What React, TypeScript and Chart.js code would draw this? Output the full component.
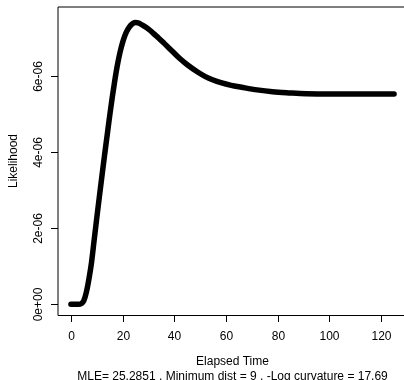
import { useEffect, useRef } from "react";
import { Chart, registerables } from "chart.js";

Chart.register(...registerables);

// ---- data ----
const elapsedTime = [
  0, 3, 4, 5, 6, 7, 8, 9, 10, 11, 12, 13, 14, 15, 16, 17, 18, 19, 20, 21, 22, 23, 24, 25, 26, 27,
  28, 30, 32, 34, 36, 39, 42, 45, 49, 52, 55, 58, 62, 66, 72, 78, 85, 91, 100, 108, 118, 125,
];
const likelihood = [
  0, 0, 0.02e-6, 0.1e-6, 0.33e-6, 0.68e-6, 1.12e-6, 1.7e-6, 2.27e-6, 2.83e-6, 3.38e-6, 3.92e-6,
  4.44e-6, 4.96e-6, 5.45e-6, 5.9e-6, 6.3e-6, 6.63e-6, 6.89e-6, 7.09e-6, 7.23e-6, 7.33e-6, 7.39e-6,
  7.41e-6, 7.4e-6, 7.37e-6, 7.33e-6, 7.24e-6, 7.12e-6, 7.0e-6, 6.87e-6, 6.67e-6, 6.47e-6, 6.3e-6,
  6.11e-6, 5.99e-6, 5.9e-6, 5.83e-6, 5.76e-6, 5.71e-6, 5.64e-6, 5.59e-6, 5.56e-6, 5.54e-6, 5.53e-6,
  5.53e-6, 5.53e-6, 5.53e-6,
];
const xTicks = [0, 20, 40, 60, 80, 100, 120];
const xTickLabels = ["0", "20", "40", "60", "80", "100", "120"];
const yTicks = [0, 2e-6, 4e-6, 6e-6];
const yTickLabels = ["0e+00", "2e-06", "4e-06", "6e-06"];
const xTitle = "Elapsed Time";
const subTitle = "MLE= 25.2851 , Minimum dist = 9 , -Log curvature = 17.69";
const yTitle = "Likelihood";

const FONT = "12px 'Liberation Sans', Arial, sans-serif";

const rAxesPlugin = {
  id: "rAxes",
  afterDraw(chart: any) {
    const { ctx, chartArea, scales } = chart;
    const xs = scales.x;
    const ys = scales.y;
    ctx.save();
    // box
    ctx.strokeStyle = "#000";
    ctx.lineWidth = 1;
    ctx.beginPath();
    ctx.moveTo(chartArea.left, chartArea.top);
    ctx.lineTo(chartArea.right, chartArea.top);
    ctx.moveTo(chartArea.left, chartArea.top);
    ctx.lineTo(chartArea.left, chartArea.bottom + 0.5);
    ctx.stroke();
    ctx.beginPath();
    ctx.moveTo(chartArea.left, chartArea.bottom + 0.5);
    ctx.lineTo(chartArea.right, chartArea.bottom + 0.5);
    ctx.moveTo(chartArea.right, chartArea.top);
    ctx.lineTo(chartArea.right, chartArea.bottom);
    ctx.stroke();

    ctx.fillStyle = "#000";
    ctx.font = FONT;
    // x ticks
    ctx.textAlign = "center";
    ctx.textBaseline = "middle";
    xTicks.forEach((v, i) => {
      const px = Math.round(xs.getPixelForValue(v)) + 0.5;
      ctx.beginPath();
      ctx.moveTo(px, chartArea.bottom + 1);
      ctx.lineTo(px, chartArea.bottom + 7);
      ctx.stroke();
      ctx.fillText(xTickLabels[i], px, chartArea.bottom + 22);
    });
    // y ticks
    yTicks.forEach((v, i) => {
      const py = Math.round(ys.getPixelForValue(v)) + 0.5;
      ctx.beginPath();
      ctx.moveTo(chartArea.left, py);
      ctx.lineTo(chartArea.left - 7, py);
      ctx.stroke();
      ctx.save();
      ctx.translate(chartArea.left - 19, py);
      ctx.rotate(-Math.PI / 2);
      ctx.fillText(yTickLabels[i], 0, 0);
      ctx.restore();
    });
    // titles
    const cx = (chartArea.left + chartArea.right) / 2;
    ctx.fillText(xTitle, cx, chartArea.bottom + 47);
    ctx.fillText(subTitle, cx, chartArea.bottom + 62);
    ctx.save();
    ctx.translate(13.5, (chartArea.top + chartArea.bottom) / 2);
    ctx.rotate(-Math.PI / 2);
    ctx.fillText(yTitle, 0, 0);
    ctx.restore();
    ctx.restore();
  },
};

export default function App() {
  const ref = useRef<HTMLCanvasElement | null>(null);
  useEffect(() => {
    document.body.style.margin = "0";
    const canvas = ref.current;
    if (!canvas) return;
    const chart = new Chart(canvas, {
      type: "line",
      data: {
        datasets: [
          {
            data: elapsedTime.map((x, i) => ({ x, y: likelihood[i] })),
            borderColor: "#000",
            borderWidth: 5.5,
            borderCapStyle: "round",
            borderJoinStyle: "round",
            pointRadius: 0,
            cubicInterpolationMode: "monotone",
            fill: false,
          },
        ],
      },
      options: {
        animation: false,
        responsive: false,
        devicePixelRatio: 1,
        layout: { padding: { left: 58, top: 7, right: 5, bottom: 65 } },
        plugins: { legend: { display: false }, tooltip: { enabled: false } },
        scales: {
          x: { type: "linear", min: -5, max: 130, display: false },
          y: { type: "linear", min: -0.28e-6, max: 7.82e-6, display: false },
        },
      },
      plugins: [rAxesPlugin],
    });
    return () => chart.destroy();
  }, []);
  return (
    <div style={{ position: "fixed", left: 0, top: 0, width: 404, height: 380, overflow: "hidden", background: "#fff" }}>
      <canvas ref={ref} width={412} height={380} style={{ width: 412, height: 380, display: "block" }} />
    </div>
  );
}
